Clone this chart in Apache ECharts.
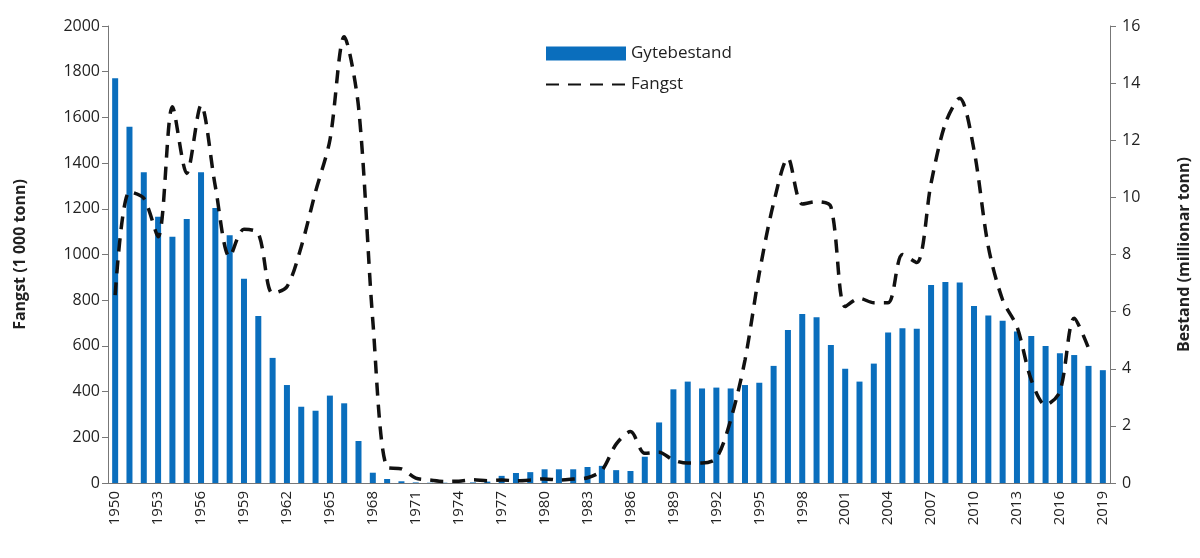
<!DOCTYPE html>
<html><head><meta charset="utf-8">
<script src="https://cdn.jsdelivr.net/npm/echarts@6/dist/echarts.min.js"></script>
<style>html,body{margin:0;background:#fff}#c{width:1200px;height:558px}</style>
</head><body><div id="c"></div>
<script>
const years = [];
for (let y = 1950; y <= 2019; y++) years.push(String(y));
const gytebestand = [14.17,12.47,10.88,9.32,8.62,9.24,10.88,9.63,8.67,7.15,5.85,4.38,3.43,2.67,2.53,3.06,2.79,1.47,0.36,0.14,0.06,0.02,0.01,0.01,0.01,0.02,0.05,0.25,0.35,0.38,0.48,0.48,0.48,0.56,0.6,0.45,0.42,0.92,2.12,3.28,3.55,3.31,3.34,3.31,3.43,3.51,4.1,5.36,5.92,5.8,4.83,4.0,3.55,4.18,5.27,5.42,5.4,6.93,7.04,7.02,6.2,5.86,5.68,5.3,5.15,4.8,4.54,4.48,4.1,3.95];
const fangst = [822,1275,1246,1078,1647,1355,1654,1297,990,1110,1093,830,859,1034,1275,1500,1953,1647,710,68,62,21,13,7,8,14,10,13,10,13,18,13,17,23,55,170,225,130,135,100,87,87,109,276,538,918,1225,1422,1221,1231,1209,772,808,789,789,1000,965,1312,1574,1684,1457,1034,801,684,451,341,400,721,590,null];
const leftTicks = [0,200,400,600,800,1000,1200,1400,1600,1800,2000];
const rightTicks = [0,2,4,6,8,10,12,14,16];
const font = 'Open Sans';
const chart = echarts.init(document.getElementById('c'));
chart.setOption({
  animation:false,
  textStyle:{fontFamily:font},
  grid:{left:108,right:87,top:26,bottom:75},
  legend:{
    top:40,left:540,orient:'vertical',itemGap:14,itemWidth:80,itemHeight:14,
    textStyle:{fontSize:17,color:'#222',fontFamily:font},
    data:[{name:'Gytebestand',icon:'rect'},{name:'Fangst',itemStyle:{opacity:0}}]
  },
  xAxis:{type:'category',data:years,boundaryGap:true,
    axisLine:{lineStyle:{color:'#777'}},
    axisTick:{alignWithLabel:true,interval:0,lineStyle:{color:'#777'},length:6},
    axisLabel:{rotate:90,interval:2,fontSize:15,color:'#222',margin:8}},
  yAxis:[
    {type:'value',min:0,max:2000,interval:200,name:'Fangst (1 000 tonn)',nameLocation:'middle',nameGap:80,
     nameTextStyle:{fontSize:16,fontWeight:'bold',color:'#222'},
     axisLine:{show:true,lineStyle:{color:'#777'}},axisTick:{show:true,length:6,lineStyle:{color:'#777'}},
     splitLine:{show:false},axisLabel:{fontSize:16,color:'#222',formatter:v=>leftTicks.includes(v)?String(v):''}},
    {type:'value',min:0,max:16,interval:2,name:'Bestand (millionar tonn)',nameLocation:'middle',nameGap:66,nameRotate:90,
     nameTextStyle:{fontSize:16,fontWeight:'bold',color:'#222'},
     axisLine:{show:true,lineStyle:{color:'#777'}},axisTick:{show:true,length:6,lineStyle:{color:'#777'}},
     splitLine:{show:false},axisLabel:{fontSize:16,color:'#222',margin:12,formatter:v=>rightTicks.includes(v)?String(v):''}}
  ],
  series:[
    {name:'Gytebestand',type:'bar',yAxisIndex:1,data:gytebestand,barWidth:6,itemStyle:{color:'#0a6ebd'}},
    {name:'Fangst',type:'line',yAxisIndex:0,data:fangst,smooth:0.3,symbol:'none',
     lineStyle:{color:'#111',width:3.5,type:[13,9]},itemStyle:{color:'#111'}}
  ]
});
</script></body></html>
